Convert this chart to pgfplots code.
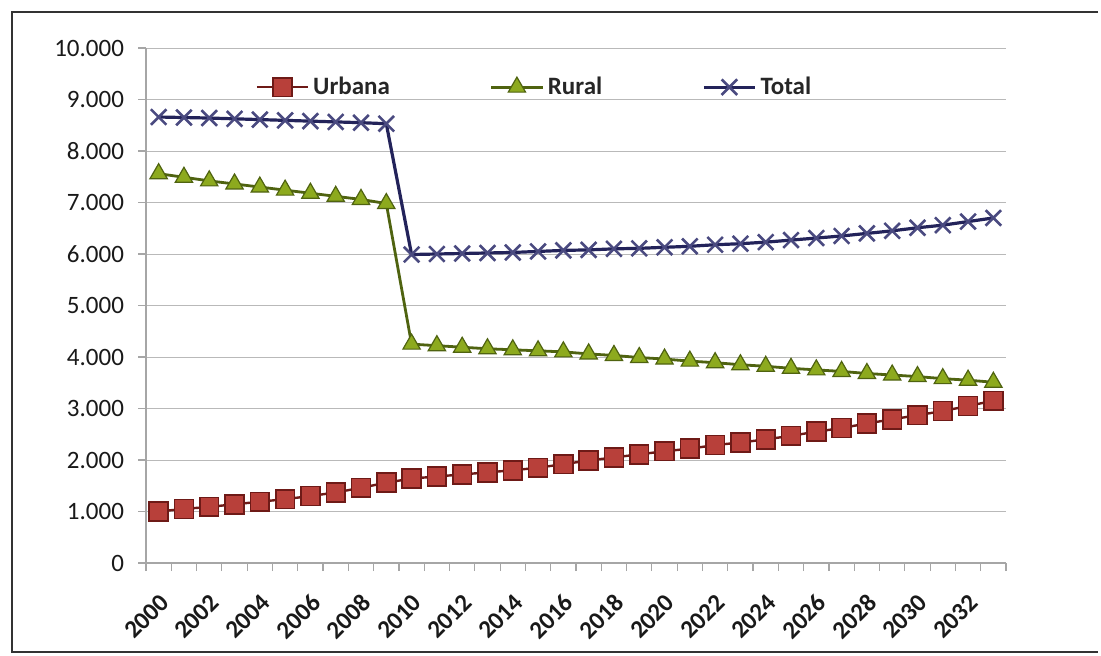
\documentclass[border=0pt]{standalone}
\usepackage{pgfplots}
\usepackage{pgfplotstable}
\pgfplotsset{compat=1.18}
\usepackage{fontspec}
\setmainfont{Carlito}
\definecolor{urb}{HTML}{B8403A}
\definecolor{urbd}{HTML}{6E1A17}
\definecolor{rur}{HTML}{8DAA1E}
\definecolor{rurd}{HTML}{4F6310}
\definecolor{tot}{HTML}{23235A}
\definecolor{totm}{HTML}{4A4A80}

\pgfplotstableread{
year urbana rural total
2000 1000 7560 8660
2001 1050 7490 8650
2002 1090 7420 8640
2003 1140 7360 8625
2004 1190 7300 8610
2005 1240 7240 8595
2006 1300 7180 8580
2007 1370 7120 8565
2008 1460 7060 8550
2009 1560 6980 8530
2010 1640 4250 5990
2011 1680 4220 6000
2012 1720 4190 6010
2013 1760 4160 6020
2014 1800 4140 6030
2015 1850 4120 6050
2016 1920 4100 6070
2017 1990 4060 6080
2018 2050 4030 6100
2019 2110 3990 6110
2020 2170 3960 6130
2021 2220 3920 6150
2022 2290 3890 6180
2023 2340 3850 6200
2024 2400 3820 6230
2025 2470 3780 6270
2026 2550 3750 6310
2027 2620 3720 6350
2028 2710 3680 6400
2029 2790 3650 6450
2030 2870 3620 6510
2031 2950 3580 6560
2032 3050 3550 6630
2033 3150 3510 6700
}\datatable

\begin{document}
\begin{tikzpicture}
\path[use as bounding box] (0pt,0pt) rectangle (550.5pt,327.5pt);
\draw[black!80, line width=0.8pt] (549pt,321.5pt) -- (6pt,321.5pt) -- (6pt,1.5pt) -- (549pt,1.5pt);
\begin{axis}[
  at={(73pt,46pt)}, anchor=south west,
  scale only axis, width=430pt, height=257.5pt,
  xmin=1999.5, xmax=2033.5, ymin=0, ymax=10000,
  axis lines*=left,
  axis line style={gray!70, line width=0.6pt},
  tick style={gray!70, line width=0.6pt},
  tick align=outside, major tick length=4pt,
  ytick={0,1000,...,10000},
  scaled y ticks=false,
  ymajorgrids, grid style={gray!55, line width=0.5pt},
  xtick={1999.5,2000.5,...,2033.5},
  xticklabels={},
  extra x ticks={2000,2002,...,2032},
  extra x tick labels={2000,2002,2004,2006,2008,2010,2012,2014,2016,2018,2020,2022,2024,2026,2028,2030,2032},
  extra x tick style={major tick length=0pt, grid=none,
     xticklabel style={rotate=45, anchor=east, xshift=-7pt, yshift=-14.5pt,
       font=\fontsize{12.5}{14}\selectfont\bfseries, text=black!90}},
  yticklabel style={font=\fontsize{12.5}{14}\selectfont, text=black!90, xshift=-3.5pt},
  /pgf/number format/assume math mode=true,
  /pgf/number format/.cd, 1000 sep={.},
  /pgfplots/.cd,
  legend style={at={(0.12,0.924)}, anchor=west, draw=none, fill=none,
     font=\fontsize{12.5}{14}\selectfont\bfseries, text=black!85,
     /tikz/every even column/.append style={column sep=48pt}},
  legend columns=3,
  legend image code/.code={
    \draw[mark repeat=2,mark phase=2,#1] plot coordinates {(0pt,0pt) (12.8pt,0pt) (25.6pt,0pt)};
  },
]
\addplot[color=urbd, line width=1.2pt, mark=square*, mark size=4.7pt,
  mark options={fill=urb, draw=urbd, line width=0.8pt, solid}]
  table[x=year, y=urbana] {\datatable};
\addlegendentry{Urbana}
\addplot[color=rurd, line width=1.4pt, mark=triangle*, mark size=5pt,
  mark options={fill=rur, draw=rurd, line width=0.6pt, solid}]
  table[x=year, y=rural] {\datatable};
\addlegendentry{Rural}
\addplot[color=tot, line width=1.6pt, mark=x, mark size=5.5pt,
  mark options={draw=totm, line width=1.3pt, solid}]
  table[x=year, y=total] {\datatable};
\addlegendentry{Total}
\end{axis}
\end{tikzpicture}
\end{document}
